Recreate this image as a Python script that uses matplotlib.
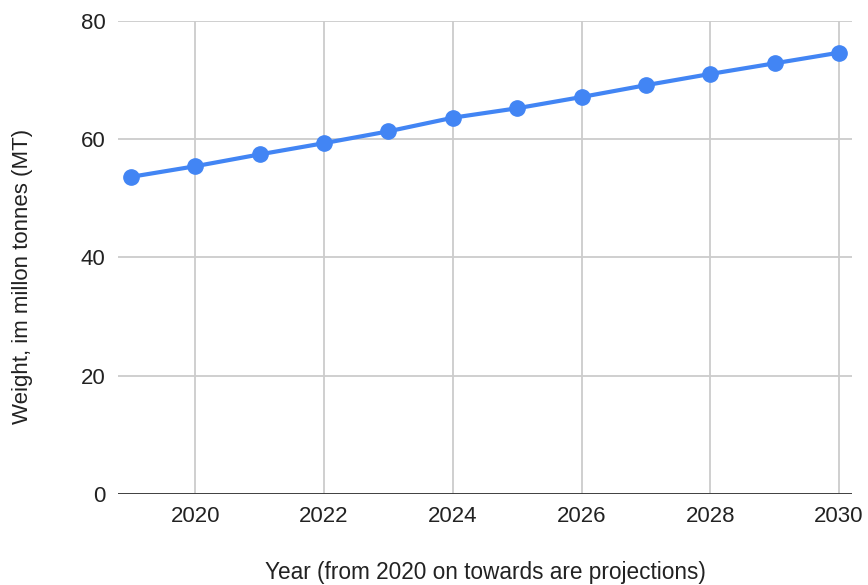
import matplotlib
matplotlib.use("Agg")
import matplotlib.pyplot as plt

years = [2019, 2020, 2021, 2022, 2023, 2024, 2025, 2026, 2027, 2028, 2029, 2030]
weight = [53.6, 55.4, 57.4, 59.3, 61.3, 63.6, 65.2, 67.1, 69.1, 71.0, 72.8, 74.6]
xticks = [2020, 2022, 2024, 2026, 2028, 2030]
yticks = [0, 20, 40, 60, 80]

plt.rcParams['font.family'] = ['Liberation Sans', 'DejaVu Sans']

fig = plt.figure(figsize=(8.68, 5.85), dpi=100)
ax = fig.add_axes([118/868, 1-494/585, (852-118)/868, (494-20.7)/585])

ax.plot(years, weight, color='#4285F4', lw=3, marker='o', markersize=11, zorder=3)

ax.set_xlim(2018.8, 2030.2)
ax.set_ylim(0, 80)
ax.set_xticks(xticks)
ax.set_yticks(yticks)
ax.grid(True, color='#cccccc', lw=1.3)
ax.set_axisbelow(True)
for s in ax.spines.values():
    s.set_visible(False)
ax.axhline(0, color='#333333', lw=2, zorder=2)
ax.tick_params(length=0, labelsize=16, colors='#222222')
ax.tick_params(axis='x', pad=9)
ax.tick_params(axis='y', pad=9)
ax.set_xlabel('Year (from 2020 on towards are projections)', fontsize=16.3, color='#222222')
ax.set_ylabel('Weight, im millon tonnes (MT)', fontsize=16, color='#222222')
ax.xaxis.set_label_coords((485-118)/734, (494-572)/473.3)
ax.yaxis.set_label_coords((22-118)/734, (494-276)/473.3)
ax.xaxis.label.set_va('center')
ax.yaxis.label.set_va('center')

fig.savefig('out.png', dpi=100)
